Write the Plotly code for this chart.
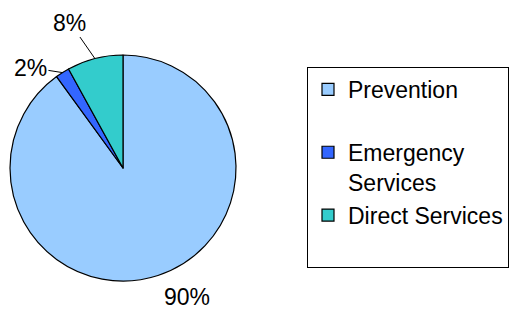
import math
import plotly.graph_objects as go

labels = ["Prevention", "Emergency Services", "Direct Services"]
legend_labels = ["Prevention<br> ", "Emergency<br>Services", "Direct Services<br> "]
values = [90, 2, 8]
pct_text = ["90%", "2%", "8%"]
colors = ["#99CCFF", "#3366FF", "#33CCCC"]

W, H = 511, 310
cx, cy, R = 123, 168, 113  # pie geometry in px

fig = go.Figure(go.Pie(
    labels=legend_labels,
    values=values,
    sort=False,
    direction="clockwise",
    rotation=0,
    marker=dict(colors=colors, line=dict(color="black", width=1.2)),
    textinfo="none",
    hoverinfo="label+percent",
    domain=dict(x=[(cx - R) / W, (cx + R) / W], y=[1 - (cy + R) / H, 1 - (cy - R) / H]),
))

# label annotations, leader tips computed from slice angles
total = sum(values)
cum = 0
offsets = {0: None, 1: (-32, -5), 2: (-25, -36)}
for i, v in enumerate(values):
    mid = (cum + v / 2) / total * 2 * math.pi
    cum += v
    tx = cx + R * math.sin(mid)
    ty = cy - R * math.cos(mid)
    if offsets[i] is None:
        fig.add_annotation(x=187 / W, y=1 - 297 / H, xref="paper", yref="paper",
                           xanchor="center", yanchor="middle",
                           text=pct_text[i], showarrow=False,
                           font=dict(size=23, color="black"))
    else:
        ax, ay = offsets[i]
        fig.add_annotation(x=tx / W, y=1 - ty / H, xref="paper", yref="paper",
                           text=pct_text[i], showarrow=True, arrowhead=0,
                           arrowwidth=1, arrowcolor="black", ax=ax, ay=ay,
                           font=dict(size=23, color="black"))

fig.update_layout(
    width=W, height=H,
    margin=dict(l=0, r=0, t=0, b=0, autoexpand=False),
    paper_bgcolor="white",
    font=dict(family="Liberation Sans, Arial, sans-serif", color="black"),
    showlegend=True,
    legend=dict(
        x=307 / W, y=1 - 67 / H, xanchor="left", yanchor="top",
        bordercolor="black", borderwidth=1, bgcolor="white",
        font=dict(size=23, color="black"),
        valign="top",
    ),
)

fig.write_html("out.html", config={"displayModeBar": False},
               post_script="document.body.style.margin='0';")
